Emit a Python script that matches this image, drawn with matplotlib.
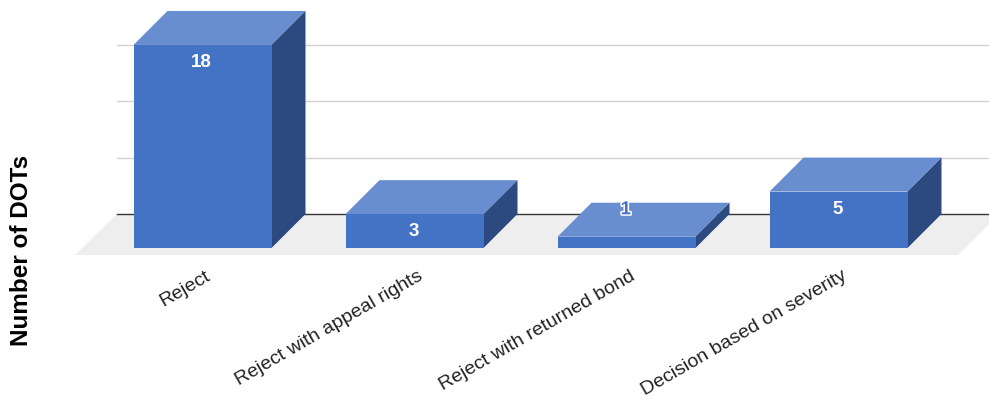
import matplotlib
matplotlib.use("Agg")
import matplotlib.pyplot as plt
from matplotlib.patches import Polygon
import matplotlib.patheffects as pe

categories = ["Reject", "Reject with appeal rights", "Reject with returned bond", "Decision based on severity"]
values = [18, 3, 1, 5]
gridlines = [5, 10, 15]

FRONT = "#4472c4"
TOP = "#698ed0"
SIDE = "#2c4a80"

plt.rcParams["font.family"] = ["Liberation Sans", "DejaVu Sans"]

W, H = 989, 399
PX_X = 212.0      # pixels per category step
PX_Y = 11.28      # pixels per unit of value
X0, Y0 = 202.5, 248.0

fig = plt.figure(figsize=(W / 100, H / 100), dpi=100)
ax = fig.add_axes([0, 0, 1, 1])
ax.set_xlim(-X0 / PX_X, (W - X0) / PX_X)
ax.set_ylim((Y0 - H) / PX_Y, Y0 / PX_Y)
ax.axis("off")

# depth of the 3D box, same pixel offset in both directions
dx = 34 / PX_X
dy = 34 / PX_Y
half = 69 / PX_X

# floor
floor_pad = 7 / PX_Y
ax.add_patch(Polygon([(-127.5 / PX_X, -floor_pad),
                      (-85.5 / PX_X, dy),
                      (796.5 / PX_X, dy),
                      (755.5 / PX_X, -floor_pad)],
                     closed=True, fc="#eeeeee", ec="none", zorder=1))

# back wall lines
left = -85.5 / PX_X
right = (W - X0) / PX_X
for g in gridlines:
    ax.plot([left, right], [g + dy, g + dy], color="#d2d2d2", lw=1.0, zorder=2)
ax.plot([left, right], [dy, dy], color="#333333", lw=1.0, zorder=2)

for i, v in enumerate(values):
    l, r = i - half, i + half
    ax.add_patch(Polygon([(l, v), (l + dx, v + dy), (r + dx, v + dy), (r, v)],
                         closed=True, fc=TOP, ec="none", zorder=3))
    ax.add_patch(Polygon([(r, 0), (r + dx, dy), (r + dx, v + dy), (r, v)],
                         closed=True, fc=SIDE, ec="none", zorder=3))
    ax.bar(i, v, width=2 * half, color=FRONT, zorder=4)

    # short bars get their label pushed up onto the top face, with a halo
    if v > 1:
        ax.annotate(str(v), (i, v), xytext=(-0.5, -12.8), textcoords="offset points",
                    ha="center", va="center", color="white", fontsize=13.5,
                    fontweight="bold", zorder=5)
    else:
        t = ax.annotate(str(v), (i, v), xytext=(-0.5, 19.4), textcoords="offset points",
                        ha="center", va="center", color=FRONT, fontsize=13.5,
                        fontweight="bold", zorder=5)
        t.set_path_effects([pe.withStroke(linewidth=2.2, foreground="white")])

    ax.annotate(categories[i], (i, 0), xytext=(2, -14), textcoords="offset points",
                ha="right", va="top", rotation=30, rotation_mode="anchor",
                fontsize=14.0, color="#222222", zorder=5)

fig.text(22 / W, 1 - 250 / H, "Number of DOTs", rotation=90, ha="center", va="center",
         fontsize=17.5, fontweight="bold", color="black")

fig.savefig("out.png", dpi=100)
